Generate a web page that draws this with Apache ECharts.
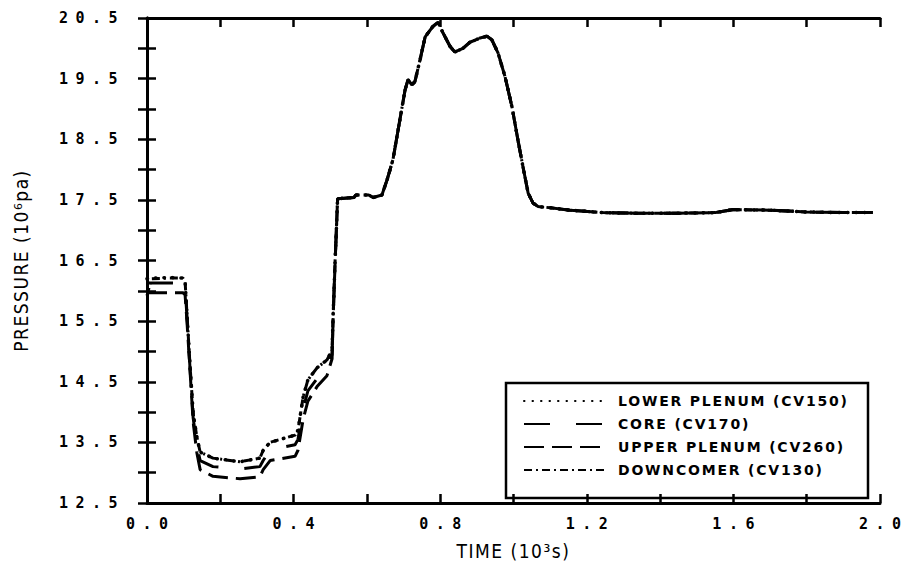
<!DOCTYPE html>
<html>
<head>
<meta charset="utf-8">
<script src="https://cdn.jsdelivr.net/npm/echarts@6/dist/echarts.min.js"></script>
<style>
  html, body { margin: 0; padding: 0; background: #fff; }
  #chart { width: 910px; height: 575px; }
</style>
</head>
<body>
<div id="chart"></div>
<script>
// Time in 10^3 s
const timeKs = [0, 0.012, 0.06, 0.098, 0.104, 0.109, 0.117, 0.126, 0.136, 0.145,
  0.18, 0.254, 0.308, 0.317, 0.336, 0.404, 0.412, 0.426, 0.439, 0.464,
  0.491, 0.505, 0.508, 0.513, 0.518, 0.52, 0.565, 0.57, 0.605, 0.617,
  0.641, 0.655, 0.671, 0.69, 0.704, 0.712, 0.723, 0.731, 0.745, 0.759,
  0.78, 0.794, 0.808, 0.827, 0.84, 0.862, 0.881, 0.909, 0.928, 0.941,
  0.958, 0.977, 0.996, 1.012, 1.026, 1.04, 1.053, 1.067, 1.1, 1.154,
  1.244, 1.337, 1.45, 1.55, 1.6, 1.7, 1.8, 1.9, 1.98];

// Pressure in 10^6 Pa
const lowerPlenum = [16.20, 16.21, 16.22, 16.21, 16.15, 15.63, 14.81, 13.98, 13.59, 13.34,
  13.24, 13.18, 13.24, 13.37, 13.50, 13.62, 13.70, 14.25, 14.53, 14.73,
  14.86, 15.02, 15.63, 16.46, 17.20, 17.52, 17.54, 17.58, 17.58, 17.54,
  17.58, 17.83, 18.16, 18.82, 19.31, 19.48, 19.40, 19.45, 19.81, 20.19,
  20.36, 20.43, 20.25, 20.03, 19.94, 20.00, 20.10, 20.17, 20.20, 20.14,
  19.92, 19.53, 19.03, 18.49, 18.04, 17.61, 17.45, 17.39, 17.37, 17.33,
  17.29, 17.28, 17.28, 17.29, 17.34, 17.33, 17.30, 17.29, 17.29];

const core = [16.13, 16.13, 16.13, 16.12, 16.05, 15.58, 14.76, 13.90, 13.45, 13.20,
  13.10, 13.06, 13.10, 13.20, 13.38, 13.46, 13.55, 14.05, 14.35, 14.55,
  14.72, 14.95, 15.60, 16.44, 17.20, 17.52, 17.54, 17.58, 17.58, 17.54,
  17.58, 17.83, 18.16, 18.82, 19.31, 19.48, 19.40, 19.45, 19.81, 20.19,
  20.36, 20.43, 20.25, 20.03, 19.94, 20.00, 20.10, 20.17, 20.20, 20.14,
  19.92, 19.53, 19.03, 18.49, 18.04, 17.61, 17.45, 17.39, 17.37, 17.33,
  17.29, 17.28, 17.28, 17.29, 17.34, 17.33, 17.30, 17.29, 17.29];

const upperPlenum = [15.97, 15.97, 15.97, 15.97, 15.93, 15.50, 14.72, 13.83, 13.33, 13.05,
  12.94, 12.90, 12.93, 13.05, 13.20, 13.27, 13.37, 13.88, 14.18, 14.42,
  14.60, 14.88, 15.58, 16.42, 17.20, 17.52, 17.54, 17.58, 17.58, 17.54,
  17.58, 17.83, 18.16, 18.82, 19.31, 19.48, 19.40, 19.45, 19.81, 20.19,
  20.36, 20.43, 20.25, 20.03, 19.94, 20.00, 20.10, 20.17, 20.20, 20.14,
  19.92, 19.53, 19.03, 18.49, 18.04, 17.61, 17.45, 17.39, 17.37, 17.33,
  17.29, 17.28, 17.28, 17.29, 17.34, 17.33, 17.30, 17.29, 17.29];

const downcomer = [15.92, 16.20, 16.21, 16.21, 16.15, 15.63, 14.81, 13.98, 13.59, 13.34,
  13.24, 13.18, 13.24, 13.37, 13.50, 13.62, 13.70, 14.25, 14.53, 14.73,
  14.86, 15.02, 15.63, 16.46, 17.20, 17.52, 17.54, 17.58, 17.58, 17.54,
  17.58, 17.83, 18.16, 18.82, 19.31, 19.48, 19.40, 19.45, 19.81, 20.19,
  20.36, 20.43, 20.25, 20.03, 19.94, 20.00, 20.10, 20.17, 20.20, 20.14,
  19.92, 19.53, 19.03, 18.49, 18.04, 17.61, 17.45, 17.39, 17.37, 17.33,
  17.29, 17.28, 17.28, 17.29, 17.34, 17.33, 17.30, 17.29, 17.29];

const seriesNames = ['LOWER PLENUM (CV150)', 'CORE (CV170)', 'UPPER PLENUM (CV260)', 'DOWNCOMER (CV130)'];

// Axis ranges and tick steps
const xRange = { min: 0, max: 2.0, step: 0.2 };
const yRange = { min: 12.5, max: 20.5, step: 0.5 };
const xTitle = 'TIME (10³s)';
const yTitle = 'PRESSURE (10⁶pa)';

const pairs = (ys) => timeKs.map((t, i) => [t, ys[i]]);

const tickFont = { fontFamily: 'DejaVu Sans Mono', fontSize: 15, fontWeight: 'bold', color: '#000' };
const nameFont = { fontFamily: "'Liberation Sans Narrow', 'DejaVu Sans Condensed', sans-serif", fontSize: 19, color: '#000' };
const axisLine = { show: true, lineStyle: { color: '#000', width: 3 } };
const axisTick = { show: true, inside: true, length: 9, lineStyle: { color: '#000', width: 2.5 } };

const chart = echarts.init(document.getElementById('chart'), null, { renderer: 'svg' });

// Plotter-style wide lettering for tick labels, axis titles and legend entries
chart.on('finished', () => {
  document.querySelectorAll('#chart svg text').forEach((el) => {
    const s = el.textContent;
    const anchor = el.getAttribute('text-anchor');
    if (/^\d+\.\d$/.test(s)) {
      el.style.letterSpacing = '7.5px';
      if (anchor === 'middle') el.setAttribute('dx', '3.75');
    } else if (/CV\d/.test(s)) {
      el.style.letterSpacing = '1.8px';
    } else if (s === xTitle || s === yTitle) {
      el.style.letterSpacing = '1.5px';
    }
  });
});

const lineBase = { type: 'line', symbol: 'none', showSymbol: false, smooth: false, color: '#000' };

chart.setOption({
  animation: false,
  backgroundColor: '#fff',
  color: ['#000'],
  grid: { left: 147, right: 30, top: 18, bottom: 72, show: false },
  xAxis: [
    {
      type: 'value', min: xRange.min, max: xRange.max, interval: xRange.step, position: 'bottom',
      axisLine, axisTick, splitLine: { show: false },
      axisLabel: {
        ...tickFont, margin: 13,
        formatter: (v) => (Math.round(v / xRange.step) % 2 === 0 ? v.toFixed(1) : '')
      },
      name: xTitle, nameLocation: 'middle', nameGap: 38, nameTextStyle: nameFont
    },
    {
      type: 'value', min: xRange.min, max: xRange.max, interval: xRange.step, position: 'top',
      axisLine, axisTick, splitLine: { show: false }, axisLabel: { show: false }
    }
  ],
  yAxis: [
    {
      type: 'value', min: yRange.min, max: yRange.max, interval: yRange.step, position: 'left',
      axisLine, axisTick, splitLine: { show: false },
      axisLabel: {
        ...tickFont, margin: 22,
        formatter: (v) => (Math.round((v - yRange.min) / yRange.step) % 2 === 0 ? v.toFixed(1) : '')
      },
      name: yTitle, nameLocation: 'middle', nameGap: 117, nameRotate: 90, nameTextStyle: nameFont
    },
    {
      type: 'value', min: yRange.min, max: yRange.max, interval: yRange.step, position: 'right',
      axisLine, axisTick, splitLine: { show: false }, axisLabel: { show: false }
    }
  ],
  legend: {
    data: seriesNames,
    orient: 'vertical',
    left: 523, top: 393,
    padding: 0,
    itemWidth: 80, itemHeight: 12, itemGap: 7,
    selectedMode: false,
    itemStyle: { opacity: 0 },
    textStyle: { fontFamily: 'DejaVu Sans', fontSize: 14, fontWeight: 'bold', color: '#000', lineHeight: 16, padding: [0, 0, 0, 9] }
  },
  graphic: [
    {
      type: 'rect', z: 1,
      shape: { x: 506, y: 383, width: 362, height: 115 },
      style: { fill: 'none', stroke: '#000', lineWidth: 2.5 }
    }
  ],
  series: [
    { ...lineBase, name: seriesNames[2], data: pairs(upperPlenum), lineStyle: { color: '#000', width: 3, type: [20, 8] } },
    { ...lineBase, name: seriesNames[1], data: pairs(core), lineStyle: { color: '#000', width: 3, type: [26, 26] } },
    { ...lineBase, name: seriesNames[3], data: pairs(downcomer), lineStyle: { color: '#000', width: 3, type: [8, 4, 2, 4] } },
    { ...lineBase, name: seriesNames[0], data: pairs(lowerPlenum), lineStyle: { color: '#000', width: 3.5, type: [0.5, 8], cap: 'round' } }
  ]
});
</script>
</body>
</html>
